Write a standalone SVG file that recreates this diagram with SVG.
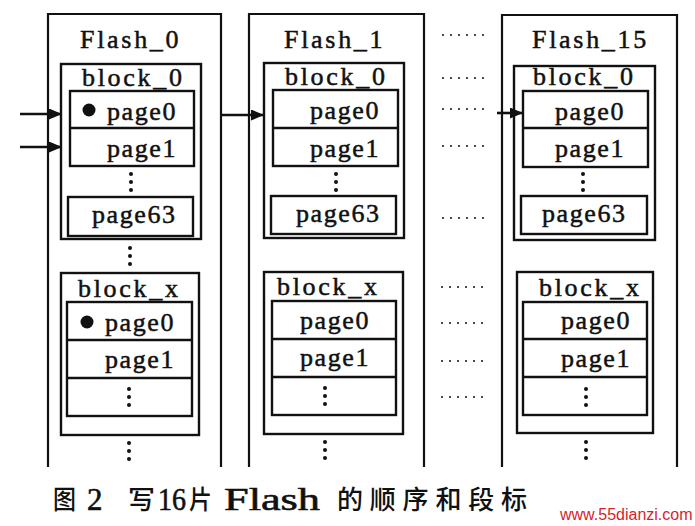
<svg xmlns="http://www.w3.org/2000/svg" width="695" height="526" viewBox="0 0 695 526">
<defs>
<style>
.frame{fill:none;stroke:#111;stroke-width:2.2}
.box{fill:none;stroke:#111;stroke-width:2.4}
.lbl{font-family:"Liberation Serif","DejaVu Serif",serif;font-size:26px;fill:#111;stroke:#111;stroke-width:0.5}
.ttl{letter-spacing:2.7px}
.pg{letter-spacing:1.6px}
.dot{fill:#111}
.conn{stroke:#111;stroke-width:2.6;fill:none}
.dotline{stroke:#222;stroke-width:2.2;stroke-linecap:round;stroke-dasharray:0 8;fill:none}
.cap{fill:#111}
.cjk{font-family:"Noto Sans CJK SC",sans-serif;font-size:26px;font-weight:500}
.lat{font-family:"Liberation Serif",serif;font-size:31px;stroke:#111;stroke-width:0.6}
</style>
<marker id="ah" markerUnits="userSpaceOnUse" markerWidth="14" markerHeight="12" refX="13" refY="5.5" orient="auto">
<path d="M0,0 L13,5.5 L0,11 z" fill="#111"/>
</marker>
<g id="vdots"><circle cx="0" cy="0" r="2"/><circle cx="0" cy="8" r="2"/><circle cx="0" cy="16" r="2"/></g>
</defs>
<rect width="695" height="526" fill="#fff"/>

<g id="flash0">
<path class="frame" d="M48,467 V14 H221 V467"/>
<text class="lbl ttl" x="80" y="48">Flash_0</text>
<g id="flash0-block0">
<rect class="box" x="61" y="64" width="140" height="175"/>
<text class="lbl ttl" x="82" y="86">block_0</text>
<rect class="box" x="70" y="91" width="124" height="75"/>
<line class="box" x1="70" y1="128" x2="194" y2="128"/>
<circle cx="89" cy="110" r="6.5" fill="#111"/>
<text class="lbl pg" x="107" y="120">page0</text>
<text class="lbl pg" x="107" y="157">page1</text>
<use href="#vdots" x="131" y="174" class="dot"/>
<rect class="box" x="68" y="197" width="125" height="39"/>
<text class="lbl pg" x="92" y="223">page63</text>
</g>
<use href="#vdots" x="130" y="248" class="dot"/>
<g id="flash0-blockx">
<rect class="box" x="61" y="273" width="138" height="162"/>
<text class="lbl ttl" x="78" y="297">block_x</text>
<rect class="box" x="67" y="302" width="125" height="114"/>
<line class="box" x1="67" y1="340" x2="192" y2="340"/>
<line class="box" x1="67" y1="378" x2="192" y2="378"/>
<circle cx="87" cy="322" r="6.5" fill="#111"/>
<text class="lbl pg" x="105" y="331">page0</text>
<text class="lbl pg" x="105" y="368">page1</text>
<use href="#vdots" x="129" y="389" class="dot"/>
</g>
<use href="#vdots" x="129" y="443" class="dot"/>
</g>

<g id="flash1">
<path class="frame" d="M249,467 V14 H424 V467"/>
<text class="lbl ttl" x="284" y="48">Flash_1</text>
<g id="flash1-block0">
<rect class="box" x="264" y="63" width="140" height="175"/>
<text class="lbl ttl" x="285" y="85">block_0</text>
<rect class="box" x="273" y="90" width="125" height="76"/>
<line class="box" x1="273" y1="128" x2="398" y2="128"/>
<text class="lbl pg" x="310" y="119">page0</text>
<text class="lbl pg" x="310" y="157">page1</text>
<use href="#vdots" x="336" y="174" class="dot"/>
<rect class="box" x="271" y="196" width="125" height="38"/>
<text class="lbl pg" x="296" y="222">page63</text>
</g>
<g id="flash1-blockx">
<rect class="box" x="264" y="272" width="139" height="162"/>
<text class="lbl ttl" x="277" y="295">block_x</text>
<rect class="box" x="272" y="301" width="124" height="114"/>
<line class="box" x1="272" y1="339" x2="396" y2="339"/>
<line class="box" x1="272" y1="377" x2="396" y2="377"/>
<text class="lbl pg" x="300" y="329">page0</text>
<text class="lbl pg" x="300" y="366">page1</text>
<use href="#vdots" x="325" y="388" class="dot"/>
</g>
<use href="#vdots" x="325" y="442" class="dot"/>
</g>

<g id="flash15">
<path class="frame" d="M502,467 V15 H677 V467"/>
<text class="lbl ttl" x="532" y="48">Flash_15</text>
<g id="flash15-block0">
<rect class="box" x="514" y="66" width="141" height="174"/>
<text class="lbl ttl" x="533" y="85">block_0</text>
<rect class="box" x="523" y="91" width="125" height="76"/>
<line class="box" x1="523" y1="128" x2="648" y2="128"/>
<text class="lbl pg" x="555" y="120">page0</text>
<text class="lbl pg" x="555" y="157">page1</text>
<use href="#vdots" x="583" y="174" class="dot"/>
<rect class="box" x="521" y="196" width="126" height="38"/>
<text class="lbl pg" x="542" y="222">page63</text>
</g>
<g id="flash15-blockx">
<rect class="box" x="517" y="272" width="136" height="161"/>
<text class="lbl ttl" x="539" y="296">block_x</text>
<rect class="box" x="523" y="302" width="124" height="113"/>
<line class="box" x1="523" y1="339" x2="647" y2="339"/>
<line class="box" x1="523" y1="377" x2="647" y2="377"/>
<text class="lbl pg" x="561" y="329">page0</text>
<text class="lbl pg" x="561" y="367">page1</text>
<use href="#vdots" x="586" y="389" class="dot"/>
</g>
<use href="#vdots" x="586" y="442" class="dot"/>
</g>

<g id="connectors">
<line class="conn" x1="20" y1="114" x2="62" y2="114" marker-end="url(#ah)"/>
<line class="conn" x1="20" y1="147" x2="62" y2="147" marker-end="url(#ah)"/>
<line class="conn" x1="221" y1="115" x2="264" y2="115" marker-end="url(#ah)"/>
<line class="conn" x1="497" y1="113" x2="523" y2="113" marker-end="url(#ah)"/>
<path class="dotline" d="M443,35 H491 M443,78 H491 M443,109 H491 M443,146 H491 M443,218 H491 M442,287 H490 M442,323 H490 M442,361 H490 M442,397 H490"/>
</g>

<g id="caption" class="cap">
<text class="cjk" x="53" y="509" textLength="23" lengthAdjust="spacingAndGlyphs">图</text>
<text class="lat" x="87" y="510">2</text>
<text class="cjk" x="128" y="509" textLength="27" lengthAdjust="spacingAndGlyphs">写</text>
<text class="lat" x="158" y="510" textLength="28" lengthAdjust="spacingAndGlyphs">16</text>
<text class="cjk" x="189" y="509" textLength="23" lengthAdjust="spacingAndGlyphs">片</text>
<text class="lat" x="224" y="510" textLength="96" lengthAdjust="spacingAndGlyphs">Flash</text>
<text class="cjk" x="337" y="509" textLength="190" lengthAdjust="spacing">的顺序和段标</text>
</g>
<text id="watermark" x="560" y="520" font-family="Liberation Sans, Arial, sans-serif" font-size="16" fill="#d8232a">www.55dianzi.com</text>
</svg>
